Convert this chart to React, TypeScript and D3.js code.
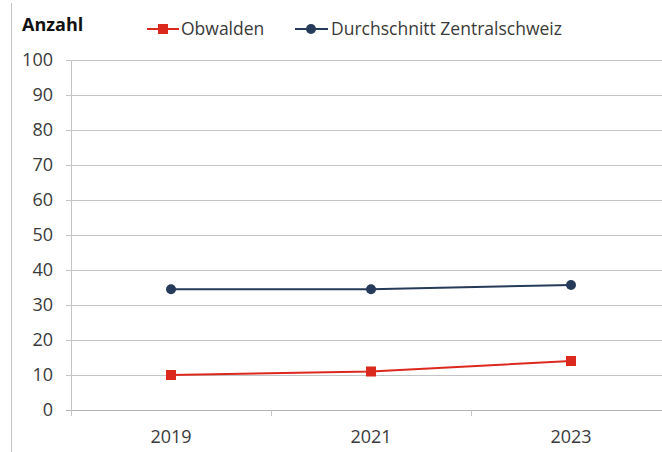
import { useMemo } from "react";
import * as d3 from "d3";

// Werte
const years = ["2019", "2021", "2023"];
const obwalden = [10, 11, 14];
const zentralschweiz = [34.5, 34.5, 35.7];
const yTicks = [0, 10, 20, 30, 40, 50, 60, 70, 80, 90, 100];
const seriesNames = ["Obwalden", "Durchschnitt Zentralschweiz"];

const W = 662;
const H = 452;
const RED = "#dc291e";
const NAVY = "#263b5a";
const GRID = "#c4c4c4";
const TXT = "#3a3a3a";
const FONT = "'Open Sans', 'Noto Sans', sans-serif";

export default function App() {
    const x = useMemo(
        () => d3.scaleBand<string>().domain(years).range([71, 671]),
        []
    );
    const y = useMemo(() => d3.scaleLinear().domain([0, 100]).range([410, 60]), []);

    const cx = (d: string) => (x(d) ?? 0) + x.bandwidth() / 2;

    const line = d3
        .line<number>()
        .x((_, i) => cx(years[i]))
        .y((v) => y(v));

    // Grenzen der Kategorien für die Tickmarken unten
    const bounds = years.map((d) => x(d) ?? 0).concat([x.range()[1]]);

    return (
        <svg
            width={W}
            height={H}
            style={{ position: "absolute", left: 0, top: 0, background: "#fff" }}
            fontFamily={FONT}
        >
            {/* linke Rahmenlinie */}
            <line x1={11.5} x2={11.5} y1={3} y2={H} stroke={GRID} strokeWidth={1} />

            {/* Gitterlinien + y-Beschriftung */}
            {yTicks.map((t) => (
                <g key={t}>
                    <line
                        x1={66}
                        x2={671}
                        y1={Math.round(y(t)) + 0.5}
                        y2={Math.round(y(t)) + 0.5}
                        stroke={t === 0 ? "#b0b0b0" : GRID}
                        strokeWidth={1}
                    />
                    <text
                        x={53}
                        y={y(t)}
                        dy="0.36em"
                        textAnchor="end"
                        fontSize={18}
                        fill={TXT}
                    >
                        {t}
                    </text>
                </g>
            ))}

            {/* y-Achse */}
            <line x1={71.5} x2={71.5} y1={60} y2={415} stroke={GRID} strokeWidth={1} />

            {/* x-Tickmarken */}
            {bounds.map((b, i) => (
                <line
                    key={i}
                    x1={Math.round(b) + 0.5}
                    x2={Math.round(b) + 0.5}
                    y1={410}
                    y2={416}
                    stroke={GRID}
                />
            ))}

            {/* x-Beschriftung */}
            {years.map((d) => (
                <text
                    key={d}
                    x={cx(d)}
                    y={442.5}
                    textAnchor="middle"
                    fontSize={18}
                    fill={TXT}
                >
                    {d}
                </text>
            ))}

            {/* Linien */}
            <path d={line(zentralschweiz) ?? ""} fill="none" stroke={NAVY} strokeWidth={2} />
            <path d={line(obwalden) ?? ""} fill="none" stroke={RED} strokeWidth={2} />

            {zentralschweiz.map((v, i) => (
                <circle key={i} cx={cx(years[i])} cy={y(v)} r={5} fill={NAVY} />
            ))}
            {obwalden.map((v, i) => (
                <rect
                    key={i}
                    x={cx(years[i]) - 5}
                    y={y(v) - 5}
                    width={10}
                    height={10}
                    fill={RED}
                />
            ))}

            {/* Titel */}
            <text x={22} y={31} fontSize={18} fontWeight={700} fill="#111">
                Anzahl
            </text>

            {/* Legende */}
            <g>
                <line x1={147} x2={179} y1={29} y2={29} stroke={RED} strokeWidth={2} />
                <rect x={158} y={24} width={10} height={10} fill={RED} />
                <text x={181} y={35} fontSize={17.5} fill={TXT}>
                    {seriesNames[0]}
                </text>
            </g>
            <g>
                <line x1={295} x2={328} y1={29} y2={29} stroke={NAVY} strokeWidth={2} />
                <circle cx={311} cy={29} r={5} fill={NAVY} />
                <text x={331} y={35} fontSize={17.5} fill={TXT}>
                    {seriesNames[1]}
                </text>
            </g>
        </svg>
    );
}
